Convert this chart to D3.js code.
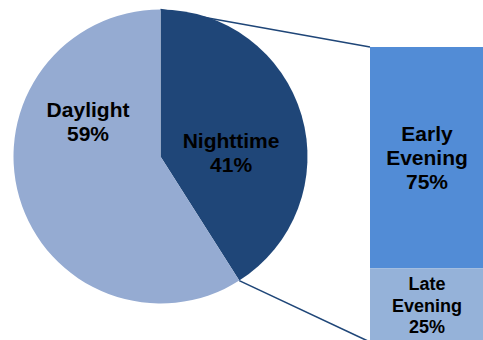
<!DOCTYPE html>
<html><head><meta charset="utf-8">
<script src="https://cdn.jsdelivr.net/npm/d3@7"></script>
<style>body{margin:0;background:#fff}svg{display:block}</style>
</head><body><svg id="chart" width="483" height="340"></svg>
<script>
// ---- data ----
const pieCategories = ["Nighttime", "Daylight"];
const pieValues = [41, 59];
const barCategories = ["Early Evening", "Late Evening"];
const barValues = [75, 25];

// ---- styles / layout ----
const pieColors = ["#1f4678", "#95abd2"];
const barColors = ["#528cd6", "#95b2d9"];
const lineColor = "#1f4678";
const font = "'Liberation Sans', Arial, Helvetica, sans-serif";

const svg = d3.select("#chart");
const cx = 160.5, cy = 156.5, r = 147;
const barX = 370, barW = 120, barTop = 47, barBottom = 342;

const pie = d3.pie().sort(null).value(d => d.value);
const arcs = pie(pieCategories.map((c, i) => ({cat: c, value: pieValues[i]})));
const arc = d3.arc().innerRadius(0).outerRadius(r);

const total = d3.sum(barValues);
const y = d3.scaleLinear().domain([0, total]).range([barTop, barBottom]);
let acc = 0;
const barData = barCategories.map((c, i) => {
  const d = {cat: c, value: barValues[i], y0: acc, y1: acc + barValues[i], color: barColors[i]};
  acc += barValues[i];
  return d;
});

const pt = a => [cx + r * Math.sin(a), cy - r * Math.cos(a)];

// connector lines (behind pie)
const sel = arcs[0];
const connectors = [
  [pt(sel.startAngle), [barX, y(0)]],
  [pt(sel.endAngle), [barX, y(total)]]
];
svg.selectAll("line.conn").data(connectors).join("line")
  .attr("class", "conn")
  .attr("x1", d => d[0][0]).attr("y1", d => d[0][1])
  .attr("x2", d => d[1][0]).attr("y2", d => d[1][1])
  .attr("stroke", lineColor).attr("stroke-width", 1.6);

// pie
const g = svg.append("g").attr("transform", `translate(${cx},${cy})`);
g.selectAll("path").data(arcs).join("path")
  .attr("d", arc)
  .attr("fill", (d, i) => pieColors[i]);

// pie labels (layout offsets as fractions of radius)
const pieLabelPos = {"Nighttime": [0.48, -0.024], "Daylight": [-0.493, -0.235]};
arcs.forEach(d => {
  const [fx, fy] = pieLabelPos[d.data.cat];
  const lx = fx * r, ly = fy * r;
  const t = g.append("text")
    .attr("text-anchor", "middle")
    .attr("font-family", font).attr("font-weight", "bold")
    .attr("font-size", 21).attr("fill", "#000");
  const lines = [d.data.cat, d.data.value + "%"];
  lines.forEach((s, k) => {
    t.append("tspan").attr("x", lx).attr("y", ly - 4.5 + k * 24).text(s);
  });
});

// bar of pie
svg.selectAll("rect.bar").data(barData).join("rect")
  .attr("class", "bar")
  .attr("x", barX).attr("width", barW)
  .attr("y", d => y(d.y0))
  .attr("height", d => y(d.y1) - y(d.y0))
  .attr("fill", d => d.color);

barData.forEach((d, i) => {
  const fs = i === 0 ? 21 : 18;
  const lh = i === 0 ? 24 : 21.5;
  const cap = fs * 0.716;
  const mid = (y(d.y0) + y(d.y1)) / 2;
  const lines = d.cat.split(" ").concat([d.value + "%"]);
  const first = mid - (lines.length - 1) * lh / 2 + cap / 2;
  const t = svg.append("text")
    .attr("text-anchor", "middle")
    .attr("font-family", font).attr("font-weight", "bold")
    .attr("font-size", fs).attr("fill", "#000");
  lines.forEach((s, k) => {
    t.append("tspan").attr("x", barX + 113 / 2 + 0.5).attr("y", first + k * lh).text(s);
  });
});
</script>
</body></html>
